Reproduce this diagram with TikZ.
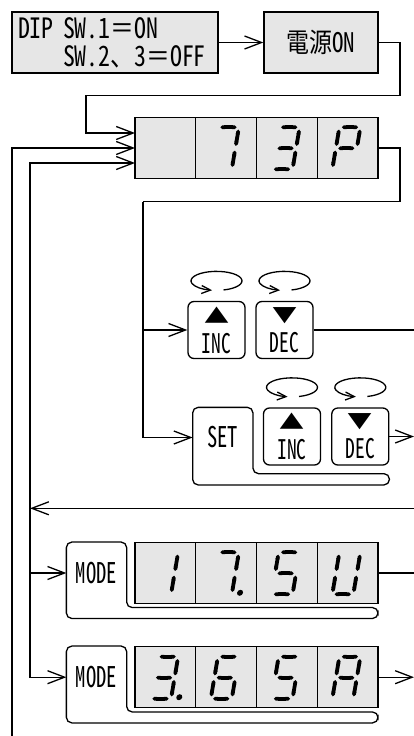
\documentclass[tikz,border=0pt]{standalone}
\usepackage{graphicx}
\usepackage{fontspec}
\newfontfamily\jp[FakeStretch=0.85]{Noto Sans CJK JP}
\newfontfamily\jph[RawFeature=+hwid, FakeStretch=0.85]{Noto Sans CJK JP}
\newfontfamily\jpn[RawFeature=+hwid, FakeStretch=0.72]{Noto Sans CJK JP}
\newfontfamily\jpsym{Noto Sans CJK JP}
\usetikzlibrary{arrows.meta,positioning,calc}
\definecolor{lcdgray}{RGB}{230,230,230}

% seven segment digit drawn in a display cell: [dot]{cell}{segments}
\newcommand{\segdigit}[3][]{%
  \begin{scope}[shift={($(#2.south west)+(15,-9)$)}, xslant=0.17]
    \foreach \nm/\px/\py/\qx/\qy in {a/0/-42/21/-42, b/21/-42/21/-21, c/21/-21/21/0,
        d/0/0/21/0, e/0/-21/0/0, f/0/-42/0/-21, g/0/-21/21/-21}
      {\coordinate (\nm1) at (\px,\py); \coordinate (\nm2) at (\qx,\qy);}
    \foreach \s in {#3} \draw[seg] (\s1) -- (\s2);
    \ifx\relax#1\relax\else\fill (29,-1.5) circle (3);\fi
  \end{scope}}
\newcommand{\up}{{\jpsym\fontsize{20}{20}\selectfont\scalebox{1.25}[1]{▲}}}
\newcommand{\down}{{\jpsym\fontsize{20}{20}\selectfont\scalebox{1.25}[1]{▼}}}

\begin{document}
\begin{tikzpicture}[x=1pt, y=-1pt, line width=1.3pt,
        arr/.style={-{Straight Barb[length=17pt,width=13pt]}},
        spin/.style={-{Straight Barb[length=9pt,width=8pt]}},
        panel/.style={draw, fill=lcdgray, inner sep=0pt},
        cell/.style={draw, fill=lcdgray, minimum width=60.75pt, inner sep=0pt, outer sep=0pt},
        key/.style={draw, fill=white, rounded corners=6pt, minimum width=57pt, minimum height=57pt,
            inner sep=0pt, align=center, font=\jpn\fontsize{27}{26}\selectfont},
        wide/.style={inner sep=0pt, minimum width=59pt, font=\jpn\fontsize{28.5}{28}\selectfont},
        seg/.style={line width=3.8pt, {Triangle Cap[]}-{Triangle Cap[]}, shorten <=2.4pt, shorten >=2.4pt}]
                \useasboundingbox (0,0) rectangle (414,736);

                % Switches and power
                \node[panel, minimum width=206pt, minimum height=61pt, text width=194pt, align=left,
                    font=\jph\fontsize{28}{28}\selectfont] (dip) at (115,42.5)
                    {DIP SW.1{\jp ＝}ON\\\phantom{DIP }SW.2{\jp 、}3{\jp ＝}OFF};
                \node[panel, minimum width=114pt, minimum height=61pt,
                    font=\jph\fontsize{27}{28}\selectfont] (pwr) at (321,42.5) {{\jp 電源}ON};
                \draw[arr] (dip.east) -- (pwr.west);

                % Display 73P
                \node[cell, minimum height=60.5pt] (d1a) at (165.4,148) {};
                \node[cell, minimum height=60.5pt, right=0pt of d1a] (d1b) {};
                \node[cell, minimum height=60.5pt, right=0pt of d1b] (d1c) {};
                \node[cell, minimum height=60.5pt, right=0pt of d1c] (d1d) {};
                \segdigit{d1b}{a,b,c}
                \segdigit{d1c}{a,b,g,c,d}
                \segdigit{d1d}{a,b,g,f,e}

                \coordinate (k1) at (400,95.5);
                \coordinate (k2) at (86,95.5);
                \draw[arr] (pwr.east) -| (k1) -- (k2) |- ($(d1a.west)+(0,-15)$);

                % INC / DEC keys
                \node[key] (inc1) at (216.5,330) {\up\\[4pt]INC};
                \node[key] (dec1) at (284.5,330) {\down\\[4pt]DEC};
                \draw[spin] ($(inc1.north)+(0,-20)+(74:25.5 and 9.5)$) arc[start angle=74, end angle=-260, x radius=25.5, y radius=9.5];
                \draw[spin] ($(dec1.north)+(0,-20)+(74:25.5 and 9.5)$) arc[start angle=74, end angle=-260, x radius=25.5, y radius=9.5];

                % SET + INC / DEC keys
                \node[wide, minimum height=59pt] (setk) at (222.8,437.5) {SET};
                \node[key] (inc2) at (292,436.5) {\up\\[4pt]INC};
                \node[key] (dec2) at (360.3,436.5) {\down\\[4pt]DEC};
                \draw[rounded corners=5.5pt] (setk.north) -- (setk.north east) -- ($(setk.south east)+(0,6)$)
                    -| ($(setk.south east -| dec2.east)+(0,17.3)$) -| (setk.north west) -- cycle;
                \draw[spin] ($(inc2.north)+(0,-20)+(74:25.5 and 9.5)$) arc[start angle=74, end angle=-260, x radius=25.5, y radius=9.5];
                \draw[spin] ($(dec2.north)+(0,-20)+(74:25.5 and 9.5)$) arc[start angle=74, end angle=-260, x radius=25.5, y radius=9.5];

                \coordinate (k3) at (400,201.5);
                \coordinate (k4) at (143,201.5);
                \draw (d1d.east) -| (k3) -- (k4);
                \draw[arr] (k4) |- (inc1.west);
                \draw[arr] (k4) |- (setk.west);
                \coordinate (out1) at (414,330);
                \draw (dec1.east) -- (out1);
                \coordinate (out2) at (414,436.5);
                \draw[arr] (dec2.east) -- (out2);

                % MODE + display 17.5U
                \node[wide, minimum height=60.6pt] (m1) at (96.5,573) {MODE};
                \node[cell, minimum height=60.6pt] (d2a) at (165.4,573) {};
                \node[cell, minimum height=60.6pt, right=0pt of d2a] (d2b) {};
                \node[cell, minimum height=60.6pt, right=0pt of d2b] (d2c) {};
                \node[cell, minimum height=60.6pt, right=0pt of d2c] (d2d) {};
                \segdigit{d2a}{b,c}
                \segdigit[dot]{d2b}{a,b,c}
                \segdigit{d2c}{a,f,g,c,d}
                \segdigit{d2d}{b,c,d,e,f}
                \draw[rounded corners=5.5pt] (m1.north) -- (m1.north east) -- ($(m1.south east)+(0,3.6)$)
                    -| ($(d2d.south east)+(0,15.2)$) -| (m1.north west) -- cycle;
                \coordinate (out3) at (414,573);
                \draw (d2d.east) -- (out3);

                % MODE + display 3.65A
                \node[wide, minimum height=61pt] (m2) at (96.5,677.2) {MODE};
                \node[cell, minimum height=61pt] (d3a) at (165.4,677.2) {};
                \node[cell, minimum height=61pt, right=0pt of d3a] (d3b) {};
                \node[cell, minimum height=61pt, right=0pt of d3b] (d3c) {};
                \node[cell, minimum height=61pt, right=0pt of d3c] (d3d) {};
                \segdigit[dot]{d3a}{a,b,g,c,d}
                \segdigit{d3b}{a,f,g,e,d,c}
                \segdigit{d3c}{a,f,g,c,d}
                \segdigit{d3d}{a,b,c,e,f,g}
                \draw[rounded corners=5.5pt] (m2.north) -- (m2.north east) -- ($(m2.south east)+(0,3.6)$)
                    -| ($(d3d.south east)+(0,15.2)$) -| (m2.north west) -- cycle;
                \coordinate (out4) at (414,677.2);
                \draw[arr] (d3d.east) -- (out4);

                % Return lines
                \coordinate (retR) at (414,508.3);
                \coordinate (busB) at (30,508.3);
                \coordinate (busA) at (12,736);
                \draw[arr] (retR) -- (busB);
                \draw[arr] (busB) |- ($(d1a.west)+(0,15)$);
                \draw[arr] (busB) |- (m1.west);
                \draw[arr] (busB) |- (m2.west);
                \draw[arr] (busA) |- (d1a.west);
            \end{tikzpicture}
\end{document}
